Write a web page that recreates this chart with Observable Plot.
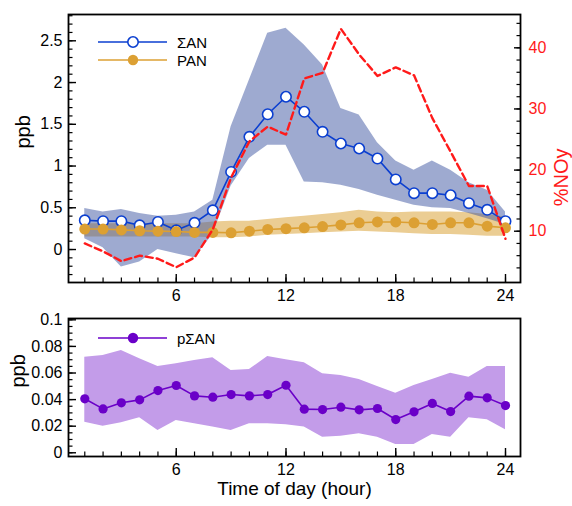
<!DOCTYPE html>
<html>
<head>
<meta charset="utf-8">
<script src="https://cdn.jsdelivr.net/npm/d3@7"></script>
<script src="https://cdn.jsdelivr.net/npm/@observablehq/plot@0.6"></script>
<style>
  body { margin: 0; background: #fff; font-family: "Liberation Sans", Arial, Helvetica, sans-serif; }
  #wrap { position: relative; width: 572px; height: 506px; overflow: hidden; }
  #wrap svg { position: absolute; left: 0; display: block; }
  .leg { position: absolute; height: 18px; display: flex; align-items: center; font-size: 15px; color: #000; white-space: nowrap; }
  .leg svg { position: static !important; margin-right: 10px; }
</style>
</head>
<body>
<div id="wrap"></div>
<script>
// ---------- data ----------
const hours = [1,2,3,4,5,6,7,8,9,10,11,12,13,14,15,16,17,18,19,20,21,22,23,24];

const sanMean = [0.35,0.34,0.34,0.29,0.33,0.23,0.32,0.47,0.93,1.35,1.62,1.83,1.65,1.41,1.27,1.21,1.09,0.84,0.675,0.675,0.65,0.555,0.475,0.34];
const sanHi   = [0.49,0.45,0.48,0.43,0.40,0.41,0.45,0.59,1.47,2.03,2.59,2.65,2.45,2.21,1.69,1.61,1.28,1.06,0.95,1.06,0.95,0.80,0.71,0.45];
const sanLo   = [0.13,0.02,-0.21,-0.15,0.00,-0.05,-0.10,0.18,0.76,1.09,1.25,1.25,0.81,0.80,0.77,0.72,0.65,0.59,0.53,0.50,0.49,0.43,0.37,0.30];

const panMean = [0.245,0.245,0.235,0.225,0.22,0.215,0.205,0.205,0.20,0.22,0.24,0.25,0.26,0.275,0.295,0.32,0.33,0.33,0.32,0.30,0.32,0.32,0.28,0.26];
const panHi   = [0.31,0.31,0.31,0.31,0.31,0.31,0.31,0.33,0.34,0.34,0.36,0.38,0.40,0.42,0.44,0.47,0.45,0.44,0.45,0.45,0.45,0.44,0.42,0.39];
const panLo   = [0.15,0.15,0.15,0.15,0.15,0.15,0.15,0.14,0.14,0.15,0.17,0.18,0.19,0.20,0.21,0.22,0.21,0.20,0.19,0.18,0.18,0.17,0.16,0.16];

const noyPct  = [8.0,6.7,5.1,6.0,5.5,4.1,5.7,10.3,18.8,24.7,27.1,25.8,35.0,35.9,43.1,38.9,35.4,36.8,35.5,28.5,23.0,17.4,17.4,8.75];

const psanMean = [0.0406,0.0330,0.0376,0.0398,0.0468,0.0506,0.0428,0.0418,0.0438,0.0428,0.0438,0.0508,0.0328,0.0325,0.0343,0.0323,0.0333,0.0250,0.0308,0.0371,0.0310,0.0426,0.0413,0.0355];
const psanHi   = [0.0719,0.0731,0.0769,0.0707,0.0649,0.0669,0.0694,0.0714,0.0619,0.0626,0.0724,0.0700,0.0677,0.0594,0.0581,0.0551,0.0498,0.0448,0.0506,0.0551,0.0599,0.0568,0.0649,0.0649];
const psanLo   = [0.0230,0.0200,0.0226,0.0263,0.0168,0.0243,0.0218,0.0193,0.0168,0.0218,0.0218,0.0210,0.0193,0.0117,0.0125,0.0143,0.0117,0.0062,0.0062,0.0138,0.0117,0.0263,0.0248,0.0173];

// tick labels
const xMajor = [6, 12, 18, 24];
const yTopMajor = [0, 0.5, 1, 1.5, 2, 2.5];
const yRightMajor = [10, 20, 30, 40];
const yBotMajor = [0, 0.02, 0.04, 0.06, 0.08, 0.1];
const xMinor = d3.range(1, 25);
const yTopMinor = d3.range(-3, 29).map(i => i / 10);
const yRightMinor = d3.range(4, 46, 2);
const yBotMinor = d3.range(0, 21).map(i => i * 0.005);

// ---------- styles ----------
const FONT = '"Liberation Sans", Arial, Helvetica, sans-serif';
const W = 572;
const TICK_FS = 16;
const xDomain = [0.11, 24.82];
const fmt = d => String(+(+d).toFixed(3));
const C = {
  san: "#0b3fd0", sanBand: "rgb(62,85,162)",
  pan: "#dca033", panBand: "#ebcd93",
  noy: "#ff1a1a",
  psan: "#6a00c8", psanBand: "#c39ce9"
};

const topRows = hours.map((h, i) => ({
  hour: h, san: sanMean[i], sanLo: sanLo[i], sanHi: sanHi[i],
  pan: panMean[i], panLo: panLo[i], panHi: panHi[i], noy: noyPct[i]
}));
const botRows = hours.map((h, i) => ({hour: h, p: psanMean[i], lo: psanLo[i], hi: psanHi[i]}));

const topLayout = {
  width: W, height: 310, marginLeft: 68, marginRight: 52, marginTop: 14, marginBottom: 28,
  style: {fontFamily: FONT, fontSize: "15px", color: "#000", background: "transparent", overflow: "visible"}
};

function xAxes() {
  return [
    Plot.axisX(xMinor, {anchor: "bottom", tickSize: -4.5, fill: "none", label: null, strokeWidth: 1.2}),
    Plot.axisX(xMajor, {anchor: "bottom", tickSize: -8, tickPadding: 15, label: null, strokeWidth: 1.4, fontSize: TICK_FS, tickFormat: fmt})
  ];
}

// ---------- top panel ----------
const topPlot = Plot.plot({
  ...topLayout,
  x: {domain: xDomain},
  y: {domain: [-0.395, 2.815]},
  marks: [
    Plot.areaY(topRows, {x: "hour", y1: "panLo", y2: "panHi", fill: C.panBand}),
    Plot.areaY(topRows, {x: "hour", y1: "sanLo", y2: "sanHi", fill: C.sanBand, fillOpacity: 0.5}),
    Plot.lineY(topRows, {x: "hour", y: "san", stroke: C.san, strokeWidth: 1.6}),
    Plot.dot(topRows, {x: "hour", y: "san", r: 5.2, fill: "white", stroke: C.san, strokeWidth: 1.6}),
    Plot.lineY(topRows, {x: "hour", y: "pan", stroke: C.pan, strokeWidth: 1.6}),
    Plot.dot(topRows, {x: "hour", y: "pan", r: 5.5, fill: C.pan}),
    Plot.axisY(yTopMinor, {anchor: "left", tickSize: -4.5, fill: "none", label: null, strokeWidth: 1.2}),
    Plot.axisY(yTopMajor, {anchor: "left", tickSize: -8, tickPadding: 14, label: null, strokeWidth: 1.4, fontSize: TICK_FS, tickFormat: fmt}),
    ...xAxes(),
    Plot.frame({stroke: "#000", strokeWidth: 1.8}),
    Plot.text(["ppb"], {frameAnchor: "left", dx: -45, rotate: -90, fontSize: 20})
  ]
});

// ---------- right axis overlay (%NOy) ----------
const rightPlot = Plot.plot({
  ...topLayout,
  x: {domain: xDomain, axis: null},
  y: {domain: [1.61, 45.45]},
  marks: [
    Plot.lineY(topRows, {x: "hour", y: "noy", stroke: C.noy, strokeWidth: 2.4, strokeDasharray: "7,4"}),
    Plot.axisY(yRightMinor, {anchor: "right", tickSize: -4.5, fill: "none", stroke: "#000", label: null, strokeWidth: 1.2}),
    Plot.axisY(yRightMajor, {anchor: "right", tickSize: -7, tickPadding: 15, stroke: "#000", fill: C.noy, label: null, strokeWidth: 1.4, fontSize: TICK_FS, tickFormat: fmt}),
    Plot.text(["%NOy"], {frameAnchor: "right", dx: 41, rotate: -90, fontSize: 20, fill: C.noy})
  ]
});

// ---------- bottom panel ----------
const botPlot = Plot.plot({
  width: W, height: 196, marginLeft: 68, marginRight: 52, marginTop: 8, marginBottom: 50,
  style: {fontFamily: FONT, fontSize: "15px", color: "#000", background: "transparent", overflow: "visible"},
  x: {domain: xDomain},
  y: {domain: [-0.0028, 0.101]},
  marks: [
    Plot.areaY(botRows, {x: "hour", y1: "lo", y2: "hi", fill: C.psanBand}),
    Plot.lineY(botRows, {x: "hour", y: "p", stroke: C.psan, strokeWidth: 1.6}),
    Plot.dot(botRows, {x: "hour", y: "p", r: 4.6, fill: C.psan}),
    Plot.axisY(yBotMinor, {anchor: "left", tickSize: -4.5, fill: "none", label: null, strokeWidth: 1.2}),
    Plot.axisY(yBotMajor, {anchor: "left", tickSize: -8, tickPadding: 14, label: null, strokeWidth: 1.4, fontSize: TICK_FS, tickFormat: fmt}),
    ...xAxes(),
    Plot.frame({stroke: "#000", strokeWidth: 1.8}),
    Plot.text(["ppb"], {frameAnchor: "left", dx: -50, rotate: -90, fontSize: 20}),
    Plot.text(["Time of day (hour)"], {frameAnchor: "bottom", dy: 38, fontSize: 19})
  ]
});

const wrap = document.getElementById("wrap");
topPlot.style.top = "0px";
rightPlot.style.top = "0px";
rightPlot.style.pointerEvents = "none";
botPlot.style.top = "310px";
wrap.appendChild(topPlot);
wrap.appendChild(botPlot);
wrap.appendChild(rightPlot);

// ---------- legends ----------
function legendRow(cy, color, markerFill, label) {
  const div = document.createElement("div");
  div.className = "leg";
  div.style.left = "98px";
  div.style.top = (cy - 9) + "px";
  const ns = "http://www.w3.org/2000/svg";
  const svg = document.createElementNS(ns, "svg");
  svg.setAttribute("width", 69); svg.setAttribute("height", 14);
  const line = document.createElementNS(ns, "line");
  line.setAttribute("x1", 0); line.setAttribute("x2", 69);
  line.setAttribute("y1", 7); line.setAttribute("y2", 7);
  line.setAttribute("stroke", color); line.setAttribute("stroke-width", 1.6);
  const c = document.createElementNS(ns, "circle");
  c.setAttribute("cx", 35); c.setAttribute("cy", 7); c.setAttribute("r", 5.2);
  c.setAttribute("fill", markerFill);
  if (markerFill === "white") { c.setAttribute("stroke", color); c.setAttribute("stroke-width", 1.6); }
  svg.appendChild(line); svg.appendChild(c);
  const span = document.createElement("span");
  span.textContent = label;
  div.appendChild(svg); div.appendChild(span);
  wrap.appendChild(div);
}
legendRow(42, C.san, "white", "ΣAN");
legendRow(60, C.pan, C.pan, "PAN");
legendRow(338, C.psan, C.psan, "pΣAN");
</script>
</body>
</html>
